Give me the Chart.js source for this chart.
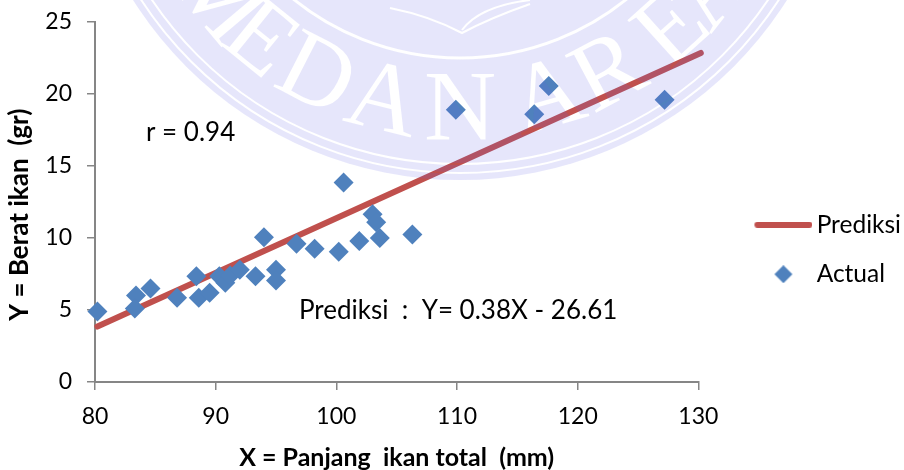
<!DOCTYPE html>
<html>
<head>
<meta charset="utf-8">
<script src="https://cdn.jsdelivr.net/npm/chart.js@4"></script>
<style>
  body { margin: 0; background: #fff; }
</style>
</head>
<body>
<canvas id="myChart" width="904" height="470"></canvas>
<script>
// values
var actualX = [80.2, 83.4, 83.3, 84.6, 86.8, 88.4, 88.6, 89.5, 90.3, 90.8, 91.2, 92, 93.3, 94, 95, 95, 96.7, 98.2, 100.2, 100.6, 101.9, 103, 103.3, 103.6, 106.3, 109.9, 116.4, 117.6, 127.2];
var actualY = [4.9, 6.0, 5.1, 6.5, 5.85, 7.35, 5.85, 6.2, 7.35, 6.9, 7.4, 7.8, 7.35, 10.05, 7.8, 7.05, 9.6, 9.25, 9.05, 13.85, 9.8, 11.65, 11.1, 10, 10.25, 18.9, 18.6, 20.55, 19.6];
var prediksiX = [80.2, 130.2];
var prediksiY = [3.85, 22.85];
var xTicks = [80, 90, 100, 110, 120, 130];
var yTicks = [0, 5, 10, 15, 20, 25];

var fontName = 'Lato';
var lineColor = '#c0504d';
var pointColor = '#4f81bd';
var axisColor = '#868686';

function pairs(xs, ys) {
  return xs.map(function (x, i) { return { x: x, y: ys[i] }; });
}

// legend icons, blank on the left so the symbol sits right of the box centre
function lineIcon() {
  var c = document.createElement('canvas');
  c.width = 97; c.height = 6;
  var g = c.getContext('2d');
  g.strokeStyle = lineColor; g.lineWidth = 6; g.lineCap = 'round';
  g.beginPath(); g.moveTo(42, 3); g.lineTo(94, 3); g.stroke();
  return c;
}
function diamondIcon() {
  var c = document.createElement('canvas');
  c.width = 97; c.height = 18;
  var g = c.getContext('2d');
  g.fillStyle = pointColor;
  g.beginPath(); g.moveTo(68, 0); g.lineTo(77, 9); g.lineTo(68, 18); g.lineTo(59, 9); g.closePath(); g.fill();
  return c;
}

// faint seal lying over the chart
var sealLetters = ['M', 'E', 'D', 'A', 'N', 'A', 'R', 'E', 'A'];
var sealAngles = [-50, -39, -27, -14, 0, 16, 28, 42, 52];

function makeSeal() {
  var c = document.createElement('canvas');
  c.width = 904; c.height = 470;
  var g = c.getContext('2d');
  var cx = 460, cy = -207;
  g.fillStyle = 'rgba(100,100,230,0.16)';
  g.beginPath(); g.arc(cx, cy, 387, 0, Math.PI * 2); g.fill();

  g.globalCompositeOperation = 'destination-out';
  g.strokeStyle = '#000';
  [[380, 2], [371, 2], [265, 3]].forEach(function (r) {
    g.lineWidth = r[1];
    g.beginPath(); g.arc(cx, cy, r[0], 0, Math.PI * 2); g.stroke();
  });
  g.fillStyle = '#000';
  g.font = '100px "Liberation Serif"';
  g.textAlign = 'center';
  g.textBaseline = 'middle';
  sealLetters.forEach(function (ch, i) {
    var a = sealAngles[i] * Math.PI / 180;
    g.save();
    g.translate(cx + Math.sin(a) * 317, cy + Math.cos(a) * 317);
    g.rotate(-a);
    g.fillText(ch, 0, 3);
    g.restore();
  });
  // book
  g.lineWidth = 2;
  g.beginPath();
  g.moveTo(390, 8); g.quadraticCurveTo(430, 16, 462, 33); g.quadraticCurveTo(490, 18, 530, 4);
  g.moveTo(462, 30); g.quadraticCurveTo(480, 6, 530, 0);
  g.stroke();
  return c;
}

var seal = makeSeal();

var notes = {
  id: 'notes',
  afterDatasetsDraw: function (chart) {
    var c = chart.ctx;
    c.save();
    c.fillStyle = '#000';
    c.font = '26px ' + fontName;
    c.textBaseline = 'middle';
    c.textAlign = 'left';
    c.fillText('r = 0.94', 146, 133);
    c.fillText('Prediksi  :  Y= 0.38X - 26.61', 299, 311);
    c.restore();
  },
  afterDraw: function (chart) {
    chart.ctx.drawImage(seal, 0, 0);
  }
};

new Chart(document.getElementById('myChart'), {
  data: {
    datasets: [{
      type: 'line',
      label: 'Prediksi',
      data: pairs(prediksiX, prediksiY),
      borderColor: lineColor,
      backgroundColor: lineColor,
      borderWidth: 6,
      borderCapStyle: 'round',
      pointRadius: 0,
      fill: false,
      order: 2,
      clip: false
    }, {
      type: 'scatter',
      label: 'Actual',
      data: pairs(actualX, actualY),
      pointStyle: 'rectRot',
      pointRadius: 10,
      pointBackgroundColor: pointColor,
      pointBorderWidth: 0,
      order: 1,
      clip: false
    }]
  },
  options: {
    responsive: false,
    animation: false,
    layout: { padding: { top: 22, right: -7, left: 0, bottom: -7 } },
    scales: {
      x: {
        type: 'linear',
        min: 80,
        max: 130,
        afterBuildTicks: function (s) { s.ticks = xTicks.map(function (v) { return { value: v }; }); },
        afterFit: function (s) { s.height = 95; s.paddingLeft = 0; s.paddingRight = 0; },
        grid: { drawOnChartArea: false, color: axisColor, tickLength: 8, lineWidth: 1.5 },
        border: { color: axisColor, width: 2 },
        ticks: { color: '#000', font: { family: fontName, size: 23 }, padding: 13, maxRotation: 0 },
        title: { display: true, text: 'X = Panjang  ikan total  (mm)', color: '#000', font: { family: fontName, size: 25, weight: 'bold' }, padding: { top: 6 } }
      },
      y: {
        min: 0,
        max: 25,
        afterBuildTicks: function (s) { s.ticks = yTicks.map(function (v) { return { value: v }; }); },
        afterFit: function (s) { s.width = 95; s.paddingTop = 0; s.paddingBottom = 0; },
        grid: { drawOnChartArea: false, color: axisColor, tickLength: 8, lineWidth: 1.5 },
        border: { color: axisColor, width: 2 },
        ticks: { color: '#000', font: { family: fontName, size: 23 }, padding: 15 },
        title: { display: true, text: 'Y = Berat ikan  (gr)    ', color: '#000', font: { family: fontName, size: 26, weight: 'bold' }, padding: { top: 4, bottom: 0 } }
      }
    },
    plugins: {
      tooltip: { enabled: false },
      title: { display: false },
      legend: {
        position: 'right',
        labels: {
          color: '#000',
          font: { family: fontName, size: 24.5 },
          usePointStyle: true,
          pointStyleWidth: 81,
          padding: 25,
          generateLabels: function (chart) {
            return [
              { text: 'Prediksi', pointStyle: lineIcon(), datasetIndex: 0, fontColor: '#000' },
              { text: 'Actual', pointStyle: diamondIcon(), datasetIndex: 1, fontColor: '#000' }
            ];
          }
        }
      }
    }
  },
  plugins: [notes]
});
</script>
</body>
</html>
